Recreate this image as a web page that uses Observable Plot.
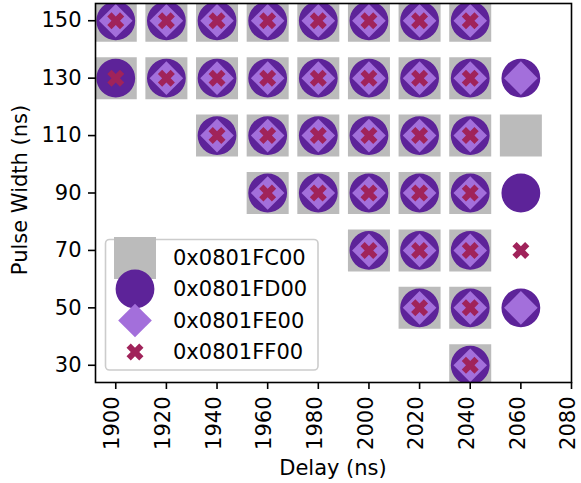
<!DOCTYPE html>
<html><head><meta charset="utf-8">
<script src="https://cdn.jsdelivr.net/npm/d3@7"></script>
<script src="https://cdn.jsdelivr.net/npm/@observablehq/plot@0.6"></script>
<style>html,body{margin:0;padding:0;background:#fff} svg{display:block}</style>
</head><body><div id="chart"></div>
<script>
const seriesNames = ["0x0801FC00", "0x0801FD00", "0x0801FE00", "0x0801FF00"];
const seriesColors = ["#bbbbbb", "#5d2399", "#a36fdb", "#a0235a"];
const xTicks = [1900, 1920, 1940, 1960, 1980, 2000, 2020, 2040, 2060, 2080];
const yTicks = [30, 50, 70, 90, 110, 130, 150];

// [delay (ns), pulse width (ns)]
const fc00Points = [
  [1900,150],[1920,150],[1940,150],[1960,150],[1980,150],[2000,150],[2020,150],[2040,150],
  [1900,130],[1920,130],[1940,130],[1960,130],[1980,130],[2000,130],[2020,130],[2040,130],
  [1940,110],[1960,110],[1980,110],[2000,110],[2020,110],[2040,110],[2060,110],
  [1960,90],[1980,90],[2000,90],[2020,90],[2040,90],
  [2000,70],[2020,70],[2040,70],
  [2020,50],[2040,50],
  [2040,30]
];
const fd00Points = [
  [1900,150],[1920,150],[1940,150],[1960,150],[1980,150],[2000,150],[2020,150],[2040,150],
  [1900,130],[1920,130],[1940,130],[1960,130],[1980,130],[2000,130],[2020,130],[2040,130],[2060,130],
  [1940,110],[1960,110],[1980,110],[2000,110],[2020,110],[2040,110],
  [1960,90],[1980,90],[2000,90],[2020,90],[2040,90],[2060,90],
  [2000,70],[2020,70],[2040,70],
  [2020,50],[2040,50],[2060,50],
  [2040,30]
];
const fe00Points = [
  [1900,150],[1920,150],[1940,150],[1960,150],[1980,150],[2000,150],[2020,150],[2040,150],
  [1920,130],[1940,130],[1960,130],[1980,130],[2000,130],[2020,130],[2040,130],[2060,130],
  [1940,110],[1960,110],[1980,110],[2000,110],[2020,110],[2040,110],
  [1960,90],[1980,90],[2000,90],[2020,90],[2040,90],
  [2000,70],[2020,70],[2040,70],
  [2020,50],[2040,50],[2060,50],
  [2040,30]
];
const ff00Points = [
  [1900,150],[1920,150],[1940,150],[1960,150],[1980,150],[2000,150],[2020,150],[2040,150],
  [1900,130],[1920,130],[1940,130],[1960,130],[1980,130],[2000,130],[2020,130],[2040,130],
  [1940,110],[1960,110],[1980,110],[2000,110],[2020,110],[2040,110],
  [1960,90],[1980,90],[2000,90],[2020,90],[2040,90],
  [2000,70],[2020,70],[2040,70],[2060,70],
  [2020,50],[2040,50],
  [2040,30]
];

// custom symbols (size = PI * r^2 -> h = r)
const half = size => Math.sqrt(size / Math.PI);
const squareSym = {draw(c, size) { const h = half(size);
  c.moveTo(-h, -h); c.lineTo(h, -h); c.lineTo(h, h); c.lineTo(-h, h); c.closePath(); }};
const circleSym = {draw(c, size) { const h = half(size);
  c.moveTo(h, 0); c.arc(0, 0, h, 0, 2 * Math.PI); c.closePath(); }};
const diamondSym = {draw(c, size) { const h = half(size);
  c.moveTo(0, -h); c.lineTo(h, 0); c.lineTo(0, h); c.lineTo(-h, 0); c.closePath(); }};
const xSym = {draw(c, size) { const u = half(size) / 3; const s = Math.SQRT1_2;
  const pts = [[-1,-3],[1,-3],[1,-1],[3,-1],[3,1],[1,1],[1,3],[-1,3],[-1,1],[-3,1],[-3,-1],[-1,-1]];
  pts.forEach(([x, y], i) => { const X = (x - y) * s * u, Y = (x + y) * s * u;
    i ? c.lineTo(X, Y) : c.moveTo(X, Y); }); c.closePath(); }};

const seriesPoints = [fc00Points, fd00Points, fe00Points, ff00Points];
const seriesSymbols = [squareSym, circleSym, diamondSym, xSym];
const seriesR = [21, 19.4, 16.8, 9];

const W = 581, H = 483;
const svg = Plot.plot({
  width: W, height: H,
  marginLeft: 95, marginRight: 10, marginTop: 3, marginBottom: 101,
  style: {fontFamily: "DejaVu Sans", fontSize: "21px", color: "black", background: "white", overflow: "visible"},
  x: {domain: [1892, 2080]},
  y: {domain: [24, 156]},
  marks: [
    ...seriesPoints.map((pts, i) => Plot.dot(pts, {
      x: d => d[0], y: d => d[1], symbol: seriesSymbols[i], r: seriesR[i],
      fill: seriesColors[i], stroke: "none", clip: "frame"
    })),
    Plot.frame({stroke: "black", strokeWidth: 1.6}),
    Plot.axisX({ticks: xTicks, tickSize: 7, strokeWidth: 1.6, fill: "none", label: null}),
    Plot.axisX({ticks: xTicks, tickSize: 0, tickPadding: 14, tickRotate: -90, dx: -3,
      tickFormat: d => String(d), label: null}),
    Plot.axisY({ticks: yTicks, tickSize: 7, tickPadding: 7, strokeWidth: 1.6,
      tickFormat: d => String(d), label: null})
  ]
});
document.getElementById("chart").appendChild(svg);

const s = d3.select(svg);
s.append("text").attr("x", 333).attr("y", 468).attr("text-anchor", "middle")
  .attr("dominant-baseline", "central").attr("fill", "black").text("Delay (ns)");
s.append("text").attr("transform", "translate(20,190) rotate(-90)").attr("text-anchor", "middle")
  .attr("dominant-baseline", "central").attr("fill", "black").text("Pulse Width (ns)");

// legend
const lg = s.append("g");
lg.append("rect").attr("x", 105.5).attr("y", 239.5).attr("width", 212.5).attr("height", 130.5)
  .attr("rx", 4).attr("fill", "white").attr("fill-opacity", 0.8)
  .attr("stroke", "#cccccc").attr("stroke-width", 1.6);
const rowY = [258, 289, 320.5, 352];
seriesNames.forEach((name, i) => {
  const p = d3.path(); seriesSymbols[i].draw(p, Math.PI * seriesR[i] * seriesR[i]);
  lg.append("path").attr("d", p.toString()).attr("transform", `translate(135,${rowY[i]})`)
    .attr("fill", seriesColors[i]);
  lg.append("text").attr("x", 173).attr("y", rowY[i]).attr("text-anchor", "start")
    .attr("dominant-baseline", "central").attr("fill", "black").text(name);
});
</script>
</body></html>
